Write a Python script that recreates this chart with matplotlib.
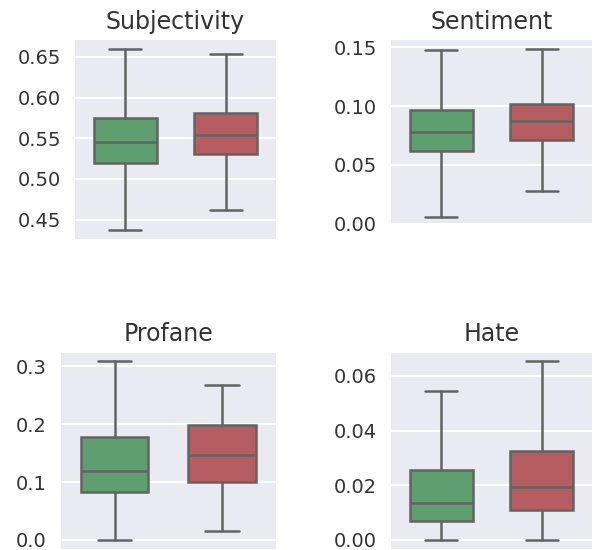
import matplotlib
matplotlib.use("Agg")
import matplotlib.pyplot as plt
import seaborn as sns

# Valores: [min, Q1, mediana, Q3, max] por grupo
titles = ["Subjectivity", "Sentiment", "Profane", "Hate"]
green_stats = [
    [0.437, 0.519, 0.5455, 0.5746, 0.6594],
    [0.006, 0.0614, 0.0783, 0.0967, 0.1475],
    [0.0, 0.082, 0.119, 0.178, 0.308],
    [0.0, 0.0068, 0.0136, 0.0256, 0.0544],
]
red_stats = [
    [0.462, 0.531, 0.5537, 0.5815, 0.654],
    [0.0278, 0.0714, 0.087, 0.1019, 0.1489],
    [0.016, 0.100, 0.146, 0.198, 0.268],
    [0.0, 0.0109, 0.0192, 0.0325, 0.0653],
]
yticks = [
    [0.45, 0.50, 0.55, 0.60, 0.65],
    [0.00, 0.05, 0.10, 0.15],
    [0.0, 0.1, 0.2, 0.3],
    [0.00, 0.02, 0.04, 0.06],
]
ytick_fmt = ["{:.2f}", "{:.2f}", "{:.1f}", "{:.2f}"]

colors = ["#5f9e6e", "#b55d60"]
line_col = "#636363"

sns.set_style("darkgrid")
plt.rcParams["font.family"] = ["DejaVu Sans"]

fig = plt.figure(figsize=(5.95, 5.5), dpi=100)
positions = [
    [0.126, 0.565, 0.338, 0.362],
    [0.657, 0.591, 0.338, 0.336],
    [0.102, 0.002, 0.362, 0.357],
    [0.657, 0.002, 0.338, 0.357],
]


def to_stats(v):
    return dict(whislo=v[0], q1=v[1], med=v[2], q3=v[3], whishi=v[4], fliers=[])


for i in range(4):
    ax = fig.add_axes(positions[i])
    stats = [to_stats(green_stats[i]), to_stats(red_stats[i])]
    bp = ax.bxp(stats, positions=[0, 1], widths=0.63, patch_artist=True,
                showfliers=False,
                boxprops=dict(edgecolor=line_col, linewidth=1.8),
                whiskerprops=dict(color=line_col, linewidth=1.8),
                capprops=dict(color=line_col, linewidth=1.8),
                medianprops=dict(color=line_col, linewidth=1.8))
    for patch, c in zip(bp["boxes"], colors):
        patch.set_facecolor(c)
    ax.set_xlim(-0.5, 1.5)
    ax.set_xticks([])
    ax.set_yticks(yticks[i])
    ax.set_yticklabels([ytick_fmt[i].format(t) for t in yticks[i]])
    ax.tick_params(axis="y", labelsize=14, pad=10, length=0, labelcolor="#333333")
    ax.grid(True, axis="y", color="white", linewidth=1.4)
    ax.grid(False, axis="x")
    ax.set_title(titles[i], fontsize=17, pad=8, color="#333333")
    for s in ax.spines.values():
        s.set_visible(False)

fig.savefig("out.png", dpi=100)
